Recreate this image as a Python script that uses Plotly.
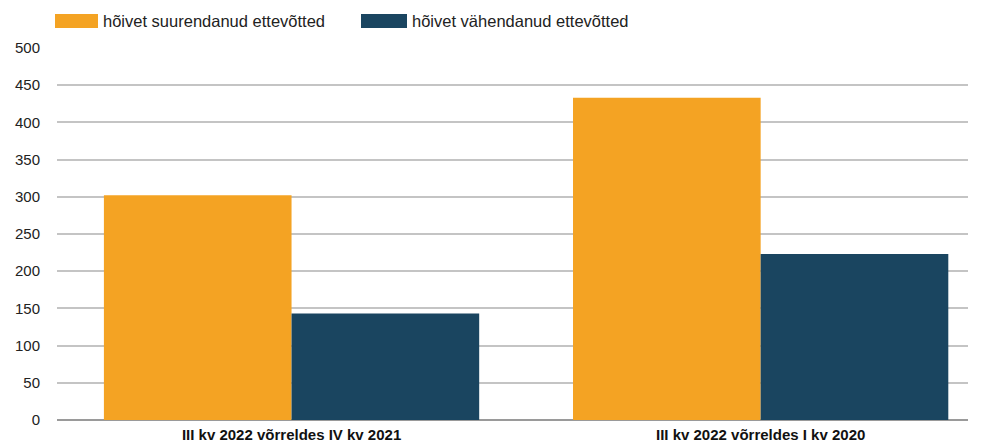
import plotly.graph_objects as go

categories = ["III kv 2022 võrreldes IV kv 2021", "III kv 2022 võrreldes I kv 2020"]
series_names = ["hõivet suurendanud ettevõtted", "hõivet vähendanud ettevõtted"]
increased = [302, 433]
decreased = [143, 223]
y_ticks = [0, 50, 100, 150, 200, 250, 300, 350, 400, 450, 500]

colors = ["#F4A323", "#1A4560"]
font = "Liberation Sans, Arial, sans-serif"

fig = go.Figure()
for name, vals, col in zip(series_names, [increased, decreased], colors):
    fig.add_trace(go.Bar(x=categories, y=vals, name=name, marker=dict(color=col, line_width=0)))

# page body has an 8px margin, so the figure is a bit smaller than the window
fig.update_layout(
    width=976,
    height=438,
    margin=dict(l=49, r=16, t=40, b=26, autoexpand=False),
    plot_bgcolor="white",
    paper_bgcolor="white",
    barmode="group",
    bargap=0.2,
    bargroupgap=0,
    showlegend=False,
    font=dict(family=font, size=15, color="#222222"),
)
fig.update_xaxes(
    range=[-0.5, 1.442],
    automargin=False,
    showgrid=False,
    ticks="",
    ticklabelstandoff=4,
    tickfont=dict(size=15, color="#111111", family=font),
    tickprefix="<b>",
    ticksuffix="</b>",
)
fig.update_yaxes(
    range=[0, 500],
    automargin=False,
    tickvals=y_ticks,
    showgrid=True,
    gridcolor="#c4c4c4",
    gridwidth=1.5,
    zeroline=True,
    zerolinecolor="#9a9a9a",
    zerolinewidth=1.5,
    ticks="",
    ticklabelstandoff=16,
    tickfont=dict(size=15, color="#222222"),
)

# custom legend with wide swatches
legend_pos = [(55, 98), (361, 407)]
for (x0, x1), name, col in zip(legend_pos, series_names, colors):
    fig.add_shape(type="rect", xref="paper", yref="paper",
                  x0=(x0 - 57) / 911, x1=(x1 - 57) / 911,
                  y0=(420 - 28) / 372, y1=(420 - 14) / 372,
                  fillcolor=col, line_width=0)
    fig.add_annotation(xref="paper", yref="paper", x=(x1 + 3 - 57) / 911, y=(420 - 21) / 372,
                       text=name, showarrow=False, xanchor="left", yanchor="middle",
                       font=dict(size=16.5, color="#222222"))

fig.write_html("out.html")
